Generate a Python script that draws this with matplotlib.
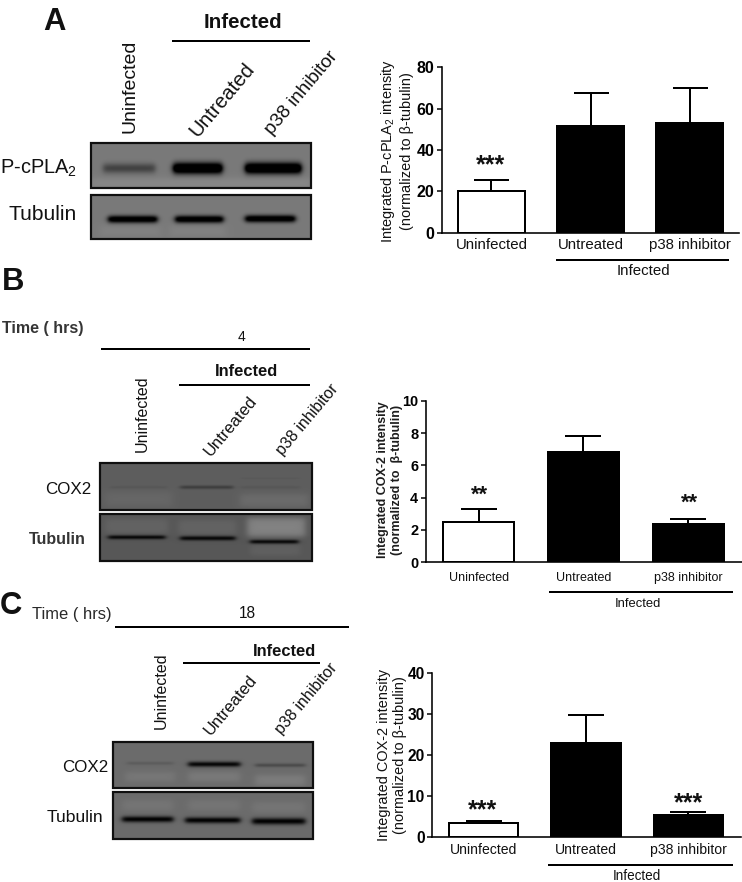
import numpy as np
import matplotlib
matplotlib.use("Agg")
import matplotlib.pyplot as plt
from matplotlib.patches import Rectangle

plt.rcParams['font.family'] = ['Liberation Sans', 'DejaVu Sans']
plt.rcParams['mathtext.fontset'] = 'custom'
plt.rcParams['mathtext.rm'] = 'Liberation Sans'
plt.rcParams['mathtext.default'] = 'regular'

W, H = 742, 882
PT = 0.72  # points per pixel at dpi 100

# ---- bar chart data ----
groups = ['Uninfected', 'Untreated', 'p38 inhibitor']
a_values = [20, 51.5, 53]
a_tops = [25.5, 67.5, 70]
b_values = [2.5, 6.8, 2.4]
b_tops = [3.3, 7.8, 2.65]
c_values = [3.4, 23, 5.3]
c_tops = [3.9, 29.6, 6.1]
bar_colors = ['white', 'black', 'black']
a_ticks = [0, 20, 40, 60, 80]
b_ticks = [0, 2, 4, 6, 8, 10]
c_ticks = [0, 10, 20, 30, 40]

# ---- gel band estimates: x0, x1, y, half-thickness, darkness (px) ----
a_gel1 = dict(box=(91, 311, 143, 188), bg=0.48, bands=[(103, 155, 168, 5, 0.22), (173, 222, 168, 5.5, 0.75), (245, 301, 168, 5.5, 0.75)],
              glow=[(90, 311, 178, 188, 0.05)])
a_gel2 = dict(box=(91, 311, 195, 239), bg=0.48, bands=[(108, 157, 219, 3.6, 0.6), (175, 223, 219, 3.6, 0.6), (245, 295, 218.5, 3.6, 0.6)],
              glow=[(100, 160, 226, 236, 0.03), (170, 225, 226, 236, 0.03)])
b_gel1 = dict(box=(100, 312, 463, 510), bg=0.37, bands=[(110, 167, 487, 1.5, 0.03), (180, 233, 487, 1.8, 0.13), (240, 300, 487, 1.5, 0.03), (240, 300, 478, 1.0, 0.02)],
              glow=[(105, 172, 492, 506, 0.03), (240, 308, 494, 506, 0.05)])
b_gel2 = dict(box=(100, 312, 514, 561), bg=0.34, bands=[(108, 165, 537, 2.0, 0.32), (180, 235, 538, 2.2, 0.32), (250, 298, 541.5, 2.0, 0.32)],
              glow=[(247, 305, 518, 536, 0.17), (105, 168, 519, 533, 0.05), (178, 236, 520, 534, 0.05), (250, 300, 545, 555, 0.04)])
c_gel1 = dict(box=(113, 313, 742, 788), bg=0.42, bands=[(127, 173, 763, 1.6, 0.06), (188, 240, 764, 2.6, 0.40), (255, 305, 765, 1.8, 0.13)],
              glow=[(125, 175, 772, 781, 0.05), (188, 240, 772, 781, 0.06), (255, 305, 775, 785, 0.07)])
c_gel2 = dict(box=(113, 313, 792, 839), bg=0.42, bands=[(122, 173, 819, 3.0, 0.42), (185, 240, 820, 3.0, 0.42), (252, 305, 821, 3.3, 0.42)],
              glow=[(122, 173, 800, 810, 0.04), (188, 240, 800, 810, 0.04), (252, 305, 802, 812, 0.04)])
gels = [a_gel1, a_gel2, b_gel1, b_gel2, c_gel1, c_gel2]

fig = plt.figure(figsize=(W / 100, H / 100), dpi=100, facecolor='white')
ov = fig.add_axes([0, 0, 1, 1])
ov.set_xlim(0, W)
ov.set_ylim(H, 0)
ov.axis('off')
ov.autoscale(False)


def soft(t, a, b, s):
    return 0.5 * (np.tanh((t - a) / s) - np.tanh((t - b) / s))


def draw_gel(g):
    x0, x1, y0, y1 = g['box']
    xs = np.arange(x0, x1, 0.5)
    ys = np.arange(y0, y1, 0.5)
    X, Y = np.meshgrid(xs, ys)
    img = np.full(X.shape, float(g['bg']))
    for a, b, c, d, amt in g['glow']:
        img += amt * soft(X, a, b, 4) * soft(Y, c, d, 3)
    for a, b, yc, ht, amt in g['bands']:
        img -= amt * soft(X, a, b, 3) * np.exp(-((Y - yc) / ht) ** 2)
    ov.imshow(np.clip(img, 0, 1), cmap='gray', vmin=0, vmax=1, extent=(x0, x1, y1, y0),
              aspect='auto', interpolation='bilinear', zorder=1)
    ov.add_patch(Rectangle((x0, y0), x1 - x0, y1 - y0, fill=False, ec='#101010', lw=2.2 * PT, zorder=2))


for g in gels:
    draw_gel(g)


def line(x0, x1, y, lw=2.0):
    ov.plot([x0, x1], [y, y], color='black', lw=lw * PT, solid_capstyle='butt', zorder=3)


def txt(x, y, s, px, **kw):
    kw.setdefault('ha', 'center')
    kw.setdefault('va', 'center')
    kw.setdefault('color', '#111111')
    ov.text(x, y, s, fontsize=px * PT, **kw)


# panel letters
txt(54, 22, 'A', 31, fontweight='bold')
txt(13, 282, 'B', 31, fontweight='bold')
txt(11, 606, 'C', 31, fontweight='bold')

# panel A left
txt(243, 22, 'Infected', 20.5, fontweight='bold')
line(172, 310, 41)
txt(130, 86, 'Uninfected', 19.5, rotation=90)
txt(222, 100, 'Untreated', 20.5, rotation=50)
txt(302, 93, 'p38 inhibitor', 19, rotation=50)
txt(77, 168, 'P-cPLA$_2$', 20, ha='right')
txt(77, 215, 'Tubulin', 21, ha='right')

# panel B left
txt(2, 329, 'Time ( hrs)', 16, ha='left', fontweight='bold', alpha=0.85)
txt(242, 337, '4', 14)
line(101, 310, 349)
txt(247, 372, 'Infected', 16.5, fontweight='bold')
line(179, 310, 385)
txt(142, 414, 'Uninfected', 16, rotation=90)
txt(231, 426, 'Untreated', 16.5, rotation=50)
txt(307, 420, 'p38 inhibitor', 16, rotation=50)
txt(91, 489, 'COX2', 17, ha='right')
txt(86, 540, 'Tubulin', 16, ha='right', fontweight='bold', alpha=0.85)

# panel C left
txt(32, 614, 'Time ( hrs)', 16.5, ha='left', alpha=0.9)
txt(247, 614, '18', 15.5)
line(115, 349, 627)
txt(285, 651, 'Infected', 16.5, fontweight='bold')
line(183, 320, 663)
txt(161, 691, 'Uninfected', 16, rotation=90)
txt(231, 705, 'Untreated', 16.5, rotation=50)
txt(306, 699, 'p38 inhibitor', 16, rotation=50)
txt(108, 767, 'COX2', 17, ha='right')
txt(103, 818, 'Tubulin', 17.5, ha='right')


def bar_panel(l, r, top, bottom, ymax, ticks, values, tops, width, xlim, cap_px, tick_px, label_px, label_pad):
    ax = fig.add_axes([l / W, 1 - bottom / H, (r - l) / W, (bottom - top) / H])
    ax.patch.set_alpha(0)
    x = np.arange(len(groups))
    err = np.array(tops) - np.array(values)
    ax.bar(x, values, width=width, color=bar_colors, edgecolor='black', linewidth=2 * PT, zorder=3)
    ax.errorbar(x, values, yerr=[np.zeros(len(x)), err], fmt='none', ecolor='black',
                elinewidth=2 * PT, capsize=cap_px * PT, capthick=2 * PT, zorder=2)
    ax.set_xlim(*xlim)
    ax.set_ylim(0, ymax)
    ax.set_yticks(ticks)
    ax.set_xticks(x, groups)
    ax.tick_params(axis='x', length=0, labelsize=label_px * PT, pad=label_pad, labelcolor='#111111')
    ax.tick_params(axis='y', length=5 * PT, width=1.5 * PT, labelsize=tick_px * PT, pad=2)
    for lab in ax.get_yticklabels():
        lab.set_fontweight('bold')
    for s in ('top', 'right'):
        ax.spines[s].set_visible(False)
    for s in ('left', 'bottom'):
        ax.spines[s].set_linewidth(1.6 * PT)
    return ax


ax_a = bar_panel(442, 739, 67.3, 232.7, 80, a_ticks, a_values, a_tops, 0.68, (-0.5, 2.5), 17.5, 16, 15, 4)
ax_b = bar_panel(426, 741.7, 400.7, 562.3, 10, b_ticks, b_values, b_tops, 0.68, (-0.503, 2.51), 18, 14.5, 12.5, 7)
ax_c = bar_panel(432.3, 740.7, 672.7, 837.3, 40, c_ticks, c_values, c_tops, 0.68, (-0.5, 2.51), 18, 15.5, 14, 4)

# significance stars
txt(491, 165, '***', 25, fontweight='bold')
txt(479, 495, '**', 22, fontweight='bold')
txt(689, 503, '**', 22, fontweight='bold')
txt(483, 810, '***', 25, fontweight='bold')
txt(689, 803, '***', 25, fontweight='bold')

# infected brackets under charts
line(556, 729, 260)
txt(643, 271, 'Infected', 15)
line(549, 733, 592)
txt(638, 604, 'Infected', 13)
line(548, 733, 865)
txt(637, 876, 'Infected', 13.5)

# y labels
txt(396.5, 151, 'Integrated P-cPLA$_2$ intensity\n(normalized to β-tubulin)', 14.5, rotation=90,
    linespacing=1.25)
txt(390, 480, 'Integrated COX-2 intensity\n(normalized to  β-tubulin)', 12.5, rotation=90, fontweight='bold', alpha=0.95,
    linespacing=1.15)
txt(392, 755, 'Integrated COX-2 intensity\n(normalized to β-tubulin)', 14.5, rotation=90,
    linespacing=1.2)

fig.savefig('out.png', dpi=100, facecolor='white')
